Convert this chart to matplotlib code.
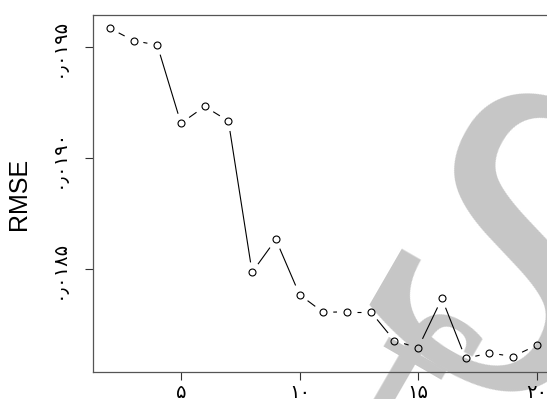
import numpy as np
import matplotlib
matplotlib.use('Agg')
import matplotlib.pyplot as plt
from matplotlib.collections import LineCollection

# RMSE per numero di componenti (2..20)
n_comp = list(range(2, 21))
rmse = [0.019586, 0.019530, 0.019510, 0.019157, 0.019233, 0.019167,
        0.018485, 0.018633, 0.018384, 0.018304, 0.018307, 0.018307,
        0.018176, 0.018144, 0.018367, 0.018096, 0.018121, 0.018105,
        0.018156]

x_ticks = [5, 10, 15, 20]
x_labels = ['۵', '۱۰', '۱۵', '۲۰']
y_ticks = [0.0185, 0.0190, 0.0195]
y_labels = ['۰٫۰۱۸۵', '۰٫۰۱۹۰', '۰٫۰۱۹۵']

fig = plt.figure(figsize=(5.47, 3.99), dpi=100)
ax = fig.add_axes([0.1695, 0.0684, 0.843, 0.894])

# limiti stile R: 4% in più per lato
def r_lim(v):
    lo, hi = min(v), max(v)
    d = (hi - lo) * 0.04
    return lo - d, hi + d

ax.set_xlim(*r_lim(n_comp))
ax.set_ylim(*r_lim(rmse))

# filigrana grigia, sotto i dati
ax.text(0.71, 0.0, 'f', fontsize=150, family='DejaVu Serif', color='#c6c6c6',
        rotation=-30, ha='center', va='center', transform=fig.transFigure,
        clip_on=False, zorder=0)
ax.text(0.905, 0.28, 'S', fontsize=280, family='DejaVu Serif', color='#c6c6c6',
        rotation=-30, ha='center', va='center', transform=fig.transFigure,
        clip_on=False, zorder=0)

# segmenti con spazio attorno ai punti (type = "b")
gap = 10.0
pts = ax.transData.transform(np.column_stack([n_comp, rmse]))
inv = ax.transData.inverted()
segs = []
for p0, p1 in zip(pts[:-1], pts[1:]):
    d = p1 - p0
    L = np.hypot(*d)
    if L > 2 * gap:
        u = d / L
        segs.append(inv.transform(np.array([p0 + u * gap, p1 - u * gap])))
ax.add_collection(LineCollection(segs, colors='black', linewidths=0.8, zorder=3))
ax.plot(n_comp, rmse, linestyle='none', marker='o', markersize=5,
        markerfacecolor='none', markeredgecolor='black', markeredgewidth=0.8, zorder=4)

ax.set_xticks(x_ticks)
ax.set_xticklabels(x_labels, fontsize=14, family='DejaVu Sans')
ax.set_yticks(y_ticks)
ax.set_yticklabels(y_labels, fontsize=14, family='DejaVu Sans', rotation=90, va='center')
ax.tick_params(axis='both', direction='out', length=6, width=0.8, color='#333333')
ax.tick_params(axis='y', pad=12)
ax.tick_params(axis='x', pad=2)
for s in ax.spines.values():
    s.set_color('#555555')
    s.set_linewidth(0.9)
    s.set_zorder(2)
ax.patch.set_alpha(0)

fig.text(0.035, 0.515, 'RMSE', fontsize=18,
         family=['Liberation Sans Narrow', 'Liberation Sans'], rotation=90,
         ha='center', va='center')

fig.savefig('out.png', dpi=100)
